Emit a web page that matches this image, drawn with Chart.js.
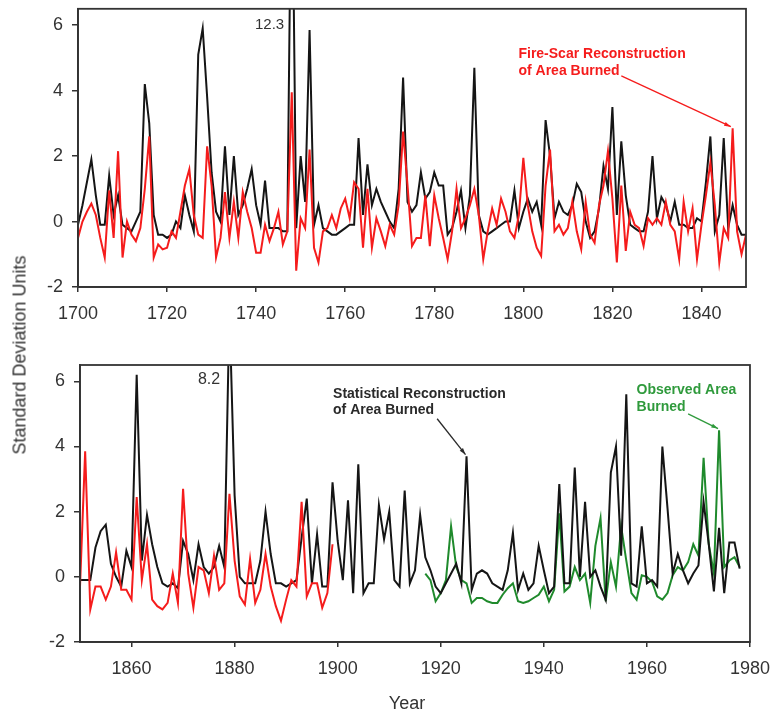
<!DOCTYPE html>
<html><head><meta charset="utf-8">
<script src="https://cdn.jsdelivr.net/npm/chart.js@4.4.1/dist/chart.umd.min.js"></script>
<style>
html,body{margin:0;padding:0;background:#fff;width:774px;height:715px;overflow:hidden;font-family:"Liberation Sans",Arial,sans-serif;position:relative;}
canvas{position:absolute;left:0;}
#c1{top:-11px}
#c2{top:340px}
.ytitle{position:absolute;left:20px;top:355px;transform:translate(-50%,-50%) rotate(-90deg);font-size:18px;color:#333;white-space:nowrap;}
.xtitle{position:absolute;left:407px;top:703px;transform:translate(-50%,-50%);font-size:18px;color:#333;white-space:nowrap;}
</style></head><body>
<canvas id="c1" width="774" height="351"></canvas>
<canvas id="c2" width="781" height="375"></canvas>
<div class="ytitle">Standard Deviation Units</div>
<div class="xtitle">Year</div>
<script>
// ---------- DATA ----------
const topStartYear = 1700;
const topStatistical = [
 -0.1, 0.5, 1.2, 1.9, 0.8, -0.1, -0.1, 1.4, 0.2, 0.8,
 -0.1, -0.2, -0.3, 0.0, 0.3, 4.2, 3.0, 0.2, -0.4, -0.4,
 -0.5, -0.4, 0.0, -0.2, 0.8, 0.2, -0.3, 5.1, 5.9, 3.8,
 1.5, 0.3, 0.0, 2.3, 0.2, 2.0, 0.2, 0.5, 1.0, 1.6,
 0.5, -0.1, 1.25, -0.2, -0.2, -0.2, -0.3, -0.3, 12.3, -0.2,
 2.0, 0.6, 5.85, -0.1, 0.5, -0.2, -0.3, -0.4, -0.4, -0.3,
 -0.2, -0.1, -0.1, 2.55, 0.2, 1.75, 0.5, 1.0, 0.6, 0.3,
 0.0, -0.2, 1.0, 4.4, 0.6, 0.3, 0.5, 1.5, 0.7, 0.9,
 1.5, 1.1, 1.1, -0.4, -0.2, 0.3, 0.95, -0.2, 0.8, 4.7,
 0.2, -0.3, -0.4, -0.3, -0.2, -0.1, 0.0, 0.0, 0.95, -0.2,
 0.3, 0.7, 0.3, 0.6, -0.1, 3.1, 2.0, 0.1, 0.6, 0.3,
 0.2, 0.5, 1.15, 0.9, 0.0, -0.5, -0.3, 0.4, 1.7, 1.0,
 3.5, 0.2, 2.45, 0.8, -0.1, -0.2, -0.3, -0.3, 0.3, 2.0,
 0.1, 0.75, 0.5, 0.0, 0.6, -0.1, -0.1, -0.2, -0.2, 0.1,
 0.0, 1.2, 2.6, -0.3, 0.2, 2.55, -0.2, 0.5, -0.1, -0.4,
 -0.4
];
const topFireScar = [
 -0.5, 0.0, 0.3, 0.55, 0.2, -0.5, -1.1, 0.95, -0.5, 2.15,
 -1.1, 0.0, -0.4, -0.6, -0.2, 1.0, 2.6, -1.1, -0.7, -0.85,
 -0.8, -0.3, -0.5, 0.3, 1.1, 1.6, 0.2, -0.4, -0.5, 2.3,
 1.1, -1.1, -0.5, 0.9, -0.5, 0.6, -0.5, 0.9, 0.3, -0.2,
 -0.95, -0.95, -0.1, -0.6, -0.2, 0.3, -0.7, -0.3, 3.95, -1.5,
 0.1, -0.2, 2.2, -0.8, -1.25, -0.3, -0.2, 0.2, -0.2, 0.4,
 0.7, 0.1, 1.2, 1.0, -0.8, 1.0, -0.8, 0.1, -0.3, -0.75,
 -0.1, -0.4, 0.5, 2.75, 1.1, -0.75, -0.5, -0.5, 0.8, -0.75,
 0.8, 0.1, -0.5, -1.15, -0.3, 1.0, -0.2, 0.1, 0.5, 1.0,
 0.2, -1.15, -0.3, 0.4, -0.1, 0.7, 0.3, -0.3, -0.5, 0.2,
 1.95, 0.5, -0.3, -0.8, -1.05, 1.1, 2.2, -0.3, -0.1, -0.4,
 -0.2, 0.6, -0.3, -0.85, 0.6, -0.4, -0.65, 0.5, 1.1, 2.15,
 0.7, -1.25, 1.1, -0.9, 0.3, -0.1, -0.2, -0.75, 0.1, -0.1,
 0.1, -0.1, 0.6, -0.1, -0.3, -1.15, 0.6, -0.3, 0.4, -1.15,
 -0.1, 0.8, 1.8, 0.5, -1.25, -0.2, -0.5, 2.85, -0.3, -1.0,
 -0.4
];
const bottomStartYear = 1850;
const bottomStatistical = [
 -0.1, -0.1, -0.1, 0.9, 1.4, 1.6, 0.4, 0.0, -0.3, 0.8,
 0.3, 6.2, 0.5, 1.9, 1.0, 0.3, -0.2, -0.3, -0.2, -0.35,
 1.1, 0.7, -0.1, 1.0, 0.3, 0.1, 0.3, 0.95, 0.3, 8.2,
 2.5, 0.0, -0.2, -0.2, -0.2, 0.5, 2.0, 0.7, -0.2, -0.2,
 -0.3, -0.2, -0.1, 1.2, 2.4, -0.2, 1.3, -0.3, -0.3, 2.9,
 1.1, -0.1, 2.35, -0.5, 3.45, -0.5, -0.2, -0.2, 2.2, 1.15,
 2.0, -0.1, -0.3, 2.65, -0.2, 0.2, 1.9, 0.6, 0.2, -0.3,
 -0.5, -0.2, 0.1, 0.4, -0.2, 3.7, -0.4, 0.1, 0.2, 0.1,
 -0.2, -0.3, -0.4, 0.2, 1.35, -0.4, 0.1, -0.4, -0.2, 0.95,
 0.2, -0.5, -0.3, 2.85, -0.2, -0.2, 3.35, 0.0, 2.3, 0.0,
 0.2, -0.3, -0.7, 3.2, 4.0, 0.65, 5.6, -0.2, -0.3, 1.55,
 -0.2, -0.1, -0.3, 4.0, 2.1, 0.1, 0.7, 0.2, -0.2, 0.1,
 0.35, 2.3, 1.0, -0.45, 1.5, -0.5, 1.05, 1.05, 0.25
];
const bottomFireScar = [
 -0.3, 3.85, -1.0, -0.3, -0.3, -0.7, -0.3, 0.75, -0.4, -0.4,
 -0.7, 2.45, -0.1, 1.0, -0.7, -0.9, -1.0, -0.8, 0.1, -0.8,
 2.7, 0.1, -0.95, 0.3, 0.2, -0.5, 0.65, -0.4, -0.2, 2.55,
 0.5, -0.6, -0.85, 0.55, -0.8, -0.4, 0.7, -0.3, -0.9, -1.35,
 -0.7, -0.1, -0.3, 2.3, -0.6, -0.2, -0.2, -0.95, -0.5, 1.0
];
const observedStartYear = 1917;
const observedAreaBurned = [
 0.1, -0.1, -0.75,
 -0.5, -0.1, 1.55, 0.3, -0.1, -0.2, -0.8, -0.65, -0.65, -0.75,
 -0.8, -0.8, -0.55, -0.35, -0.2, -0.75, -0.8, -0.75, -0.65, -0.55,
 -0.3, -0.75, -0.4, 1.95, -0.45, -0.3, 0.3, -0.1, 0.1, -0.8,
 0.95, 1.8, -0.75, 0.45, -0.3, 1.55, 0.5, -0.5, -0.7, 0.05,
 0.0, -0.15, -0.6, -0.7, -0.5, 0.05, 0.3, 0.2, 0.45, 1.0,
 0.65, 3.65, 1.0, 0.1, 4.5, 0.3, 0.5, 0.6, 0.3
];
const yTickValues = [-2, 0, 2, 4, 6];
const topXTicks = [1700, 1720, 1740, 1760, 1780, 1800, 1820, 1840];
const bottomXTicks = [1860, 1880, 1900, 1920, 1940, 1960, 1980];

// ---------- HELPERS ----------
const toPoints = (start, arr) => arr.map((v, i) => ({x: start + i, y: v}));
const valueAt = (start, arr, yr) => arr[yr - start];

const FONT = '"Liberation Sans", Arial, sans-serif';
const AXIS = '#333333';
const RED = '#f51c1c';
const BLACK = '#151515';
const GREEN = '#1f8a2c';

const framePlugin = {
  id: 'frame',
  afterDatasetsDraw(chart) {
    const {ctx, chartArea: a} = chart;
    ctx.save();
    ctx.strokeStyle = AXIS; ctx.lineWidth = 1.8;
    ctx.strokeRect(a.left, a.top, a.right - a.left, a.bottom - a.top);
    ctx.restore();
  }
};

const notesPlugin = {
  id: 'notes',
  afterDatasetsDraw(chart, args, opts) {
    const ctx = chart.ctx, xs = chart.scales.x, ys = chart.scales.y;
    ctx.save();
    (opts.texts || []).forEach(t => {
      ctx.font = t.font; ctx.fillStyle = t.color;
      ctx.textAlign = t.align || 'left'; ctx.textBaseline = 'middle';
      ctx.fillText(t.text, xs.getPixelForValue(t.x), ys.getPixelForValue(t.y));
    });
    (opts.arrows || []).forEach(a => {
      const x0 = xs.getPixelForValue(a.from[0]), y0 = ys.getPixelForValue(a.from[1]);
      const x1 = xs.getPixelForValue(a.to[0]), y1 = ys.getPixelForValue(a.to[1]);
      ctx.strokeStyle = a.color; ctx.fillStyle = a.color; ctx.lineWidth = 1.3;
      ctx.beginPath(); ctx.moveTo(x0, y0); ctx.lineTo(x1, y1); ctx.stroke();
      const ang = Math.atan2(y1 - y0, x1 - x0), L = 7, W = 0.3;
      ctx.beginPath();
      ctx.moveTo(x1, y1);
      ctx.lineTo(x1 - L * Math.cos(ang - W), y1 - L * Math.sin(ang - W));
      ctx.lineTo(x1 - L * Math.cos(ang + W), y1 - L * Math.sin(ang + W));
      ctx.closePath(); ctx.fill();
    });
    ctx.restore();
  }
};

function axisX(min, max, ticks) {
  return {
    type: 'linear', min, max,
    afterBuildTicks: s => { s.ticks = ticks.map(v => ({value: v})); },
    afterFit: s => { s.height = 50; },
    grid: {display: true, drawOnChartArea: false, drawTicks: true, tickLength: 5, color: AXIS, lineWidth: 1.5},
    border: {display: true, color: AXIS, width: 1.8},
    ticks: {autoSkip: false, maxRotation: 0, padding: 11, color: AXIS,
            font: {family: FONT, size: 18}, callback: v => String(v)}
  };
}
function axisY(width) {
  return {
    type: 'linear', min: -2, max: 6.5,
    afterBuildTicks: s => { s.ticks = yTickValues.map(v => ({value: v})); },
    afterFit: s => { s.width = width; },
    grid: {display: true, drawOnChartArea: false, drawTicks: true, tickLength: 6, color: AXIS, lineWidth: 1.5},
    border: {display: true, color: AXIS, width: 1.8},
    ticks: {padding: 9, color: AXIS, font: {family: FONT, size: 18}, callback: v => String(v)}
  };
}
const lineDs = (label, pts, color) => ({
  label, data: pts, borderColor: color, backgroundColor: color,
  borderWidth: 2, pointRadius: 0, tension: 0, fill: false
});

// ---------- TOP PANEL ----------
new Chart(document.getElementById('c1'), {
  type: 'line',
  data: {datasets: [
    lineDs('Fire-Scar Reconstruction of Area Burned', toPoints(topStartYear, topFireScar), RED),
    lineDs('Statistical Reconstruction of Area Burned', toPoints(topStartYear, topStatistical), BLACK)
  ]},
  options: {
    responsive: false, animation: false, devicePixelRatio: 1,
    layout: {padding: {left: 0, top: 9, right: 28, bottom: 3}},
    scales: {x: axisX(1700, 1850, topXTicks), y: axisY(78)},
    plugins: {
      legend: {display: false}, tooltip: {enabled: false},
      notes: {
        texts: [
          {text: '12.3', x: 1746.3, y: 6.0, align: 'right', font: '15px ' + FONT, color: '#333'},
          {text: 'Fire-Scar Reconstruction', x: 1798.9, y: 5.1, font: 'bold 14px ' + FONT, color: RED},
          {text: 'of Area Burned', x: 1798.9, y: 4.6, font: 'bold 14px ' + FONT, color: RED}
        ],
        arrows: [
          {from: [1822.0, 4.45], to: [1846.6, valueAt(topStartYear, topFireScar, 1847) + 0.05], color: RED}
        ]
      }
    }
  },
  plugins: [framePlugin, notesPlugin]
});

// ---------- BOTTOM PANEL ----------
new Chart(document.getElementById('c2'), {
  type: 'line',
  data: {datasets: [
    lineDs('Fire-Scar Reconstruction of Area Burned', toPoints(bottomStartYear, bottomFireScar), RED),
    lineDs('Statistical Reconstruction of Area Burned', toPoints(bottomStartYear, bottomStatistical), BLACK),
    lineDs('Observed Area Burned', toPoints(observedStartYear, observedAreaBurned), GREEN)
  ]},
  options: {
    responsive: false, animation: false, devicePixelRatio: 1,
    layout: {padding: {left: 0, top: 25, right: 29, bottom: 23}},
    scales: {x: axisX(1850, 1980, bottomXTicks), y: axisY(80)},
    plugins: {
      legend: {display: false}, tooltip: {enabled: false},
      notes: {
        texts: [
          {text: '8.2', x: 1877.2, y: 6.05, align: 'right', font: '16px ' + FONT, color: '#333'},
          {text: 'Statistical Reconstruction', x: 1899.1, y: 5.62, font: 'bold 14px ' + FONT, color: '#2a2a2a'},
          {text: 'of Area Burned', x: 1899.1, y: 5.1, font: 'bold 14px ' + FONT, color: '#2a2a2a'},
          {text: 'Observed Area', x: 1958.0, y: 5.72, font: 'bold 14px ' + FONT, color: '#2f9a3c'},
          {text: 'Burned', x: 1958.0, y: 5.21, font: 'bold 14px ' + FONT, color: '#2f9a3c'}
        ],
        arrows: [
          {from: [1919.3, 4.85], to: [1924.8, valueAt(bottomStartYear, bottomStatistical, 1925) + 0.05], color: '#2a2a2a'},
          {from: [1968.0, 5.0], to: [1973.8, valueAt(observedStartYear, observedAreaBurned, 1974) + 0.05], color: '#2f9a3c'}
        ]
      }
    }
  },
  plugins: [framePlugin, notesPlugin]
});
</script>
</body></html>
